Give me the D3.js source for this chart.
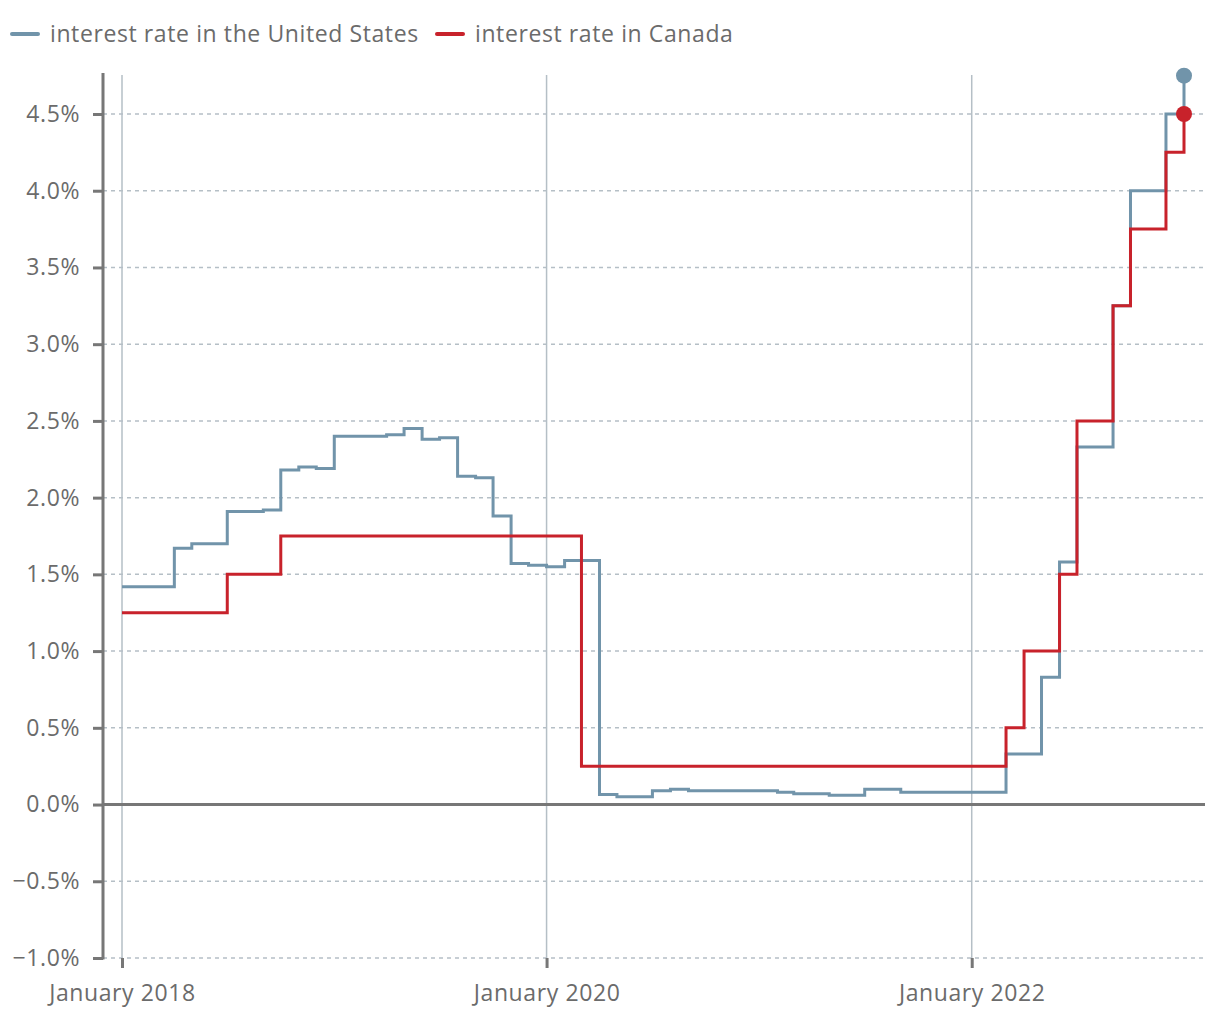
<!DOCTYPE html>
<html>
<head>
<meta charset="utf-8">
<script src="https://cdn.jsdelivr.net/npm/d3@7"></script>
<style>
  body { margin: 0; background: #fff; }
  text { font-family: "Open Sans", sans-serif; fill: #6b6b6b; letter-spacing: 0.6px; }
</style>
</head>
<body>
<div class="chart"></div>
<script>
// monthly US rate, January 2018 to January 2023
let usStart = "2018-01";
let usValues = [
  1.42, 1.42, 1.42, 1.67, 1.70, 1.70, 1.91, 1.91, 1.92, 2.18, 2.20, 2.19,
  2.40, 2.40, 2.40, 2.41, 2.45, 2.38, 2.39, 2.14, 2.13, 1.88, 1.57, 1.56,
  1.55, 1.59, 1.59, 0.065, 0.05, 0.05, 0.09, 0.10, 0.09, 0.09, 0.09, 0.09,
  0.09, 0.08, 0.07, 0.07, 0.06, 0.06, 0.10, 0.10, 0.08, 0.08, 0.08, 0.08,
  0.08, 0.08, 0.33, 0.33, 0.83, 1.58, 2.33, 2.33, 3.25, 4.00, 4.00, 4.50,
  4.75
];
// Canada: months where the rate changed
let caDates = ["2018-01", "2018-07", "2018-10", "2020-03", "2022-03", "2022-04",
  "2022-06", "2022-07", "2022-09", "2022-10", "2022-12", "2023-01"];
let caValues = [1.25, 1.50, 1.75, 0.25, 0.50, 1.00, 1.50, 2.50, 3.25, 3.75, 4.25, 4.50];

let yTicks = [-1.0, -0.5, 0, 0.5, 1.0, 1.5, 2.0, 2.5, 3.0, 3.5, 4.0, 4.5];
let xTicks = ["2018-01", "2020-01", "2022-01"];
let seriesNames = ["interest rate in the United States", "interest rate in Canada"];

let usColor = "#7194aa";
let caColor = "#c8222b";
let axisColor = "#777";
let gridColor = "#b5bfc6";

let svgWidth = 1220;
let svgHeight = 1020;

let parseMonth = d3.timeParse("%Y-%m");
let usStartDate = parseMonth(usStart);
let usData = usValues.map((v, i) => ({ date: d3.timeMonth.offset(usStartDate, i), value: v }));
let caData = caDates.map((d, i) => ({ date: parseMonth(d), value: caValues[i] }));

let svg = d3.select(".chart")
  .append("svg")
  .attr("width", svgWidth)
  .attr("height", svgHeight);

let xScale = d3.scaleTime()
  .domain([parseMonth("2018-01"), parseMonth("2023-01")])
  .range([122, 1184]);
let yScale = d3.scaleLinear()
  .domain([-1, 4.5])
  .range([958, 114]);

let plotLeft = 103, plotRight = 1205, plotTop = 75;

// vertical grid
svg.append("g")
  .selectAll("line")
  .data(xTicks)
  .enter()
  .append("line")
  .attr("x1", d => xScale(parseMonth(d)))
  .attr("x2", d => xScale(parseMonth(d)))
  .attr("y1", plotTop)
  .attr("y2", yScale(-1))
  .attr("stroke", gridColor)
  .attr("stroke-width", 1.5);

// horizontal dashed grid
svg.append("g")
  .selectAll("line")
  .data(yTicks.filter(d => d !== 0))
  .enter()
  .append("line")
  .attr("x1", plotLeft)
  .attr("x2", plotRight)
  .attr("y1", d => yScale(d))
  .attr("y2", d => yScale(d))
  .attr("stroke", gridColor)
  .attr("stroke-width", 1.5)
  .attr("stroke-dasharray", "4,4");

// zero line
svg.append("line")
  .attr("x1", plotLeft)
  .attr("x2", plotRight)
  .attr("y1", yScale(0))
  .attr("y2", yScale(0))
  .attr("stroke", axisColor)
  .attr("stroke-width", 3);

// y axis
let fmt = d => (d < 0 ? "\u2212" : "") + Math.abs(d).toFixed(1) + "%";
let leftAxis = d3.axisLeft(yScale)
  .tickValues(yTicks)
  .tickSize(10)
  .tickPadding(13)
  .tickFormat(fmt);
let yAxis = svg.append("g")
  .attr("transform", `translate(${plotLeft}, 0)`)
  .call(leftAxis);
yAxis.select(".domain").remove();
yAxis.selectAll(".tick line").attr("stroke", axisColor).attr("stroke-width", 3);
yAxis.selectAll(".tick text").attr("font-size", 23).attr("fill", "#6b6b6b");
svg.append("line")
  .attr("x1", plotLeft)
  .attr("x2", plotLeft)
  .attr("y1", 73)
  .attr("y2", yScale(-1) + 1.5)
  .attr("stroke", axisColor)
  .attr("stroke-width", 3);

// x axis
let bottomAxis = d3.axisBottom(xScale)
  .tickValues(xTicks.map(parseMonth))
  .tickSize(10)
  .tickPadding(17)
  .tickFormat(d3.timeFormat("%B %Y"));
let xAxis = svg.append("g")
  .attr("transform", `translate(0, ${yScale(-1)})`)
  .call(bottomAxis);
xAxis.select(".domain").remove();
xAxis.selectAll(".tick line").attr("stroke", axisColor).attr("stroke-width", 3);
xAxis.selectAll(".tick text").attr("font-size", 23).attr("fill", "#6b6b6b");

// step lines
let line = d3.line()
  .x(d => xScale(d.date))
  .y(d => yScale(d.value))
  .curve(d3.curveStepAfter);

svg.append("path")
  .datum(usData)
  .attr("d", line)
  .attr("fill", "none")
  .attr("stroke", usColor)
  .attr("stroke-width", 3);
svg.append("path")
  .datum(caData)
  .attr("d", line)
  .attr("fill", "none")
  .attr("stroke", caColor)
  .attr("stroke-width", 3);

// end dots
let lastUs = usData[usData.length - 1];
let lastCa = caData[caData.length - 1];
svg.append("circle")
  .attr("cx", xScale(lastUs.date))
  .attr("cy", yScale(lastUs.value))
  .attr("r", 8)
  .attr("fill", usColor);
svg.append("circle")
  .attr("cx", xScale(lastCa.date))
  .attr("cy", yScale(lastCa.value))
  .attr("r", 8)
  .attr("fill", caColor);

// legend
let legend = svg.append("g").attr("transform", "translate(0, 34)");
let legendX = [12, 437];
let legendColors = [usColor, caColor];
seriesNames.forEach((name, i) => {
  legend.append("line")
    .attr("x1", legendX[i])
    .attr("x2", legendX[i] + 26)
    .attr("y1", 0)
    .attr("y2", 0)
    .attr("stroke", legendColors[i])
    .attr("stroke-width", 4)
    .attr("stroke-linecap", "round");
  legend.append("text")
    .attr("x", legendX[i] + 38)
    .attr("y", 0)
    .attr("dy", "0.35em")
    .attr("font-size", 23)
    .attr("fill", "#555")
    .text(name);
});
</script>
</body>
</html>
